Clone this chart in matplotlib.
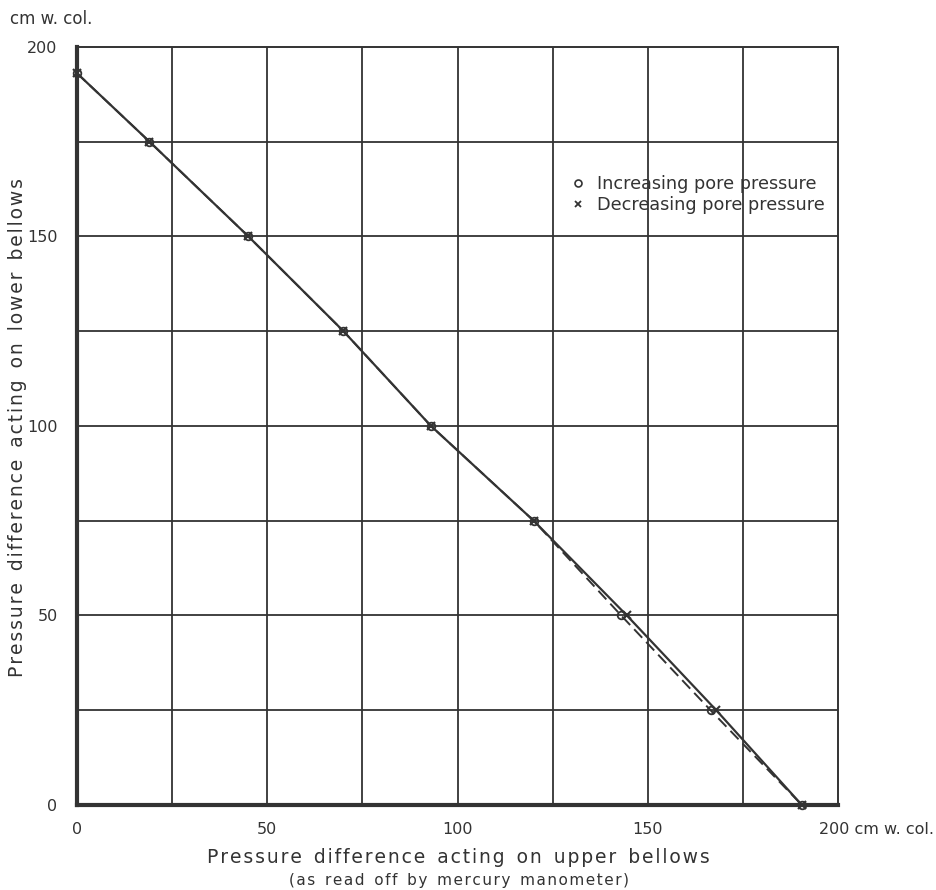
import matplotlib.pyplot as plt
from matplotlib.lines import Line2D
from matplotlib.transforms import blended_transform_factory

plt.rcParams["font.family"] = ["DejaVu Sans"]

ink = "#333333"

# ------------------
# Data
# ------------------
upper_inc = [0, 19, 45, 70, 93, 120, 143, 166.5, 190.5]
lower_inc = [193, 175, 150, 125, 100, 75, 50, 25, 0]

upper_dec = [0, 19, 45, 70, 93, 120, 144.5, 168, 190.5]
lower_dec = [193, 175, 150, 125, 100, 75, 50, 25, 0]

x_ticks = [0, 50, 100, 150]
y_ticks = [0, 50, 100, 150, 200]
grid_step = 25


def spaced(s):
    # drafting-style lettering: a hair space between the letters
    return "  ".join("\u200a".join(w) for w in s.split(" "))


fig = plt.figure(figsize=(9.36, 8.90), dpi=100)
ax = fig.add_axes([0.0823, 0.0955, 0.813, 0.852])

ax.set_xlim(0, 200)
ax.set_ylim(0, 200)

# grid every 25
for v in range(grid_step, 200, grid_step):
    ax.axvline(v, color=ink, lw=1.3, zorder=1)
    ax.axhline(v, color=ink, lw=1.3, zorder=1)

for side in ["top", "right"]:
    ax.spines[side].set_linewidth(1.4)
    ax.spines[side].set_color(ink)
for side in ["left", "bottom"]:
    ax.spines[side].set_linewidth(3.0)
    ax.spines[side].set_color(ink)

# curves
ax.plot(upper_dec, lower_dec, color=ink, lw=1.6, zorder=3)
ax.plot(upper_inc, lower_inc, color=ink, lw=1.4, ls=(0, (6, 3)), zorder=3)
ax.plot(upper_dec, lower_dec, ls="none", marker="x", ms=6, mew=1.5,
        color=ink, zorder=4, clip_on=False)
ax.plot(upper_inc, lower_inc, ls="none", marker="o", ms=5.5, mew=1.3,
        mfc="none", mec=ink, zorder=4, clip_on=False)

# ticks
ax.tick_params(length=0, colors=ink, labelsize=11.5)
ax.tick_params(axis="x", pad=12)
ax.tick_params(axis="y", pad=14)
ax.set_xticks(x_ticks)
ax.set_yticks(y_ticks)
ax.set_xticklabels([str(t) for t in x_ticks])
ax.set_yticklabels([str(t) for t in y_ticks])

trans = blended_transform_factory(ax.transData, ax.transAxes)
ax.text(195, -0.032, "200 cm w. col.", transform=trans, ha="left", va="center",
        fontsize=11.5, color=ink)
fig.text(0.011, 0.979, "cm w. col.", ha="left", va="center", fontsize=12, color=ink)

# axis labels
fig.text(0.49, 0.037, spaced("Pressure difference acting on upper bellows"),
         ha="center", va="center", fontsize=13.5, color=ink)
fig.text(0.49, 0.011, spaced("(as read off by mercury manometer)"),
         ha="center", va="center", fontsize=11, color=ink)
fig.text(0.019, 0.52, spaced("Pressure difference acting on lower bellows"),
         rotation=90, ha="center", va="center", fontsize=13.5, color=ink)

# legend
handles = [
    Line2D([], [], ls="none", marker="o", ms=5, mfc="none", mec=ink, mew=1.2),
    Line2D([], [], ls="none", marker="x", ms=5, mec=ink, mew=1.3),
]
ax.legend(handles, ["Increasing pore pressure", "Decreasing pore pressure"],
          loc="upper left", bbox_to_anchor=(0.628, 0.852), frameon=False,
          fontsize=12.7, handlelength=0.8, handletextpad=0.7, labelspacing=0.2,
          labelcolor=ink)

fig.savefig("out.png", dpi=100, facecolor="white")
